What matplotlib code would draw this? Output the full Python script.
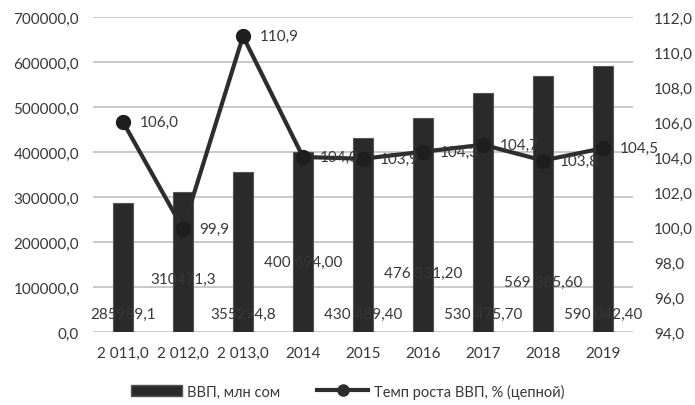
import matplotlib.pyplot as plt
from matplotlib.lines import Line2D
from matplotlib.patches import Patch

plt.rcParams['font.family'] = ['Lato', 'DejaVu Sans']

years = ["2 011,0", "2 012,0", "2 013,0", "2014", "2015", "2016", "2017", "2018", "2019"]
gdp = [285989.1, 310471.3, 355294.8, 400694.0, 430489.4, 476331.2, 530475.7, 569385.6, 590042.4]
gdp_labels = ["285989,1", "310471,3", "355294,8", "400 694,00", "430 489,40",
              "476 331,20", "530 475,70", "569 385,60", "590 042,40"]
growth = [106.0, 99.9, 110.9, 104.0, 103.9, 104.3, 104.7, 103.8, 104.5]
growth_labels = ["106,0", "99,9", "110,9", "104,0", "103,9", "104,3", "104,7", "103,8", "104,5"]

# where the bar value labels sit (left-axis units), as in the source picture
gdp_label_y = [40000, 117000, 40000, 155000, 40000, 132000, 40000, 112000, 40000]

txt = "#383838"
fs = 11
fig = plt.figure(figsize=(6.95, 4.06), dpi=100)
ax = fig.add_axes([93 / 695, 1 - 333 / 406, 540 / 695, 315 / 406])
ax2 = ax.twinx()

x = range(len(years))
ax.bar(x, gdp, width=0.34, color="#2a2a2a", edgecolor="#555555", linewidth=0.8, zorder=2)
ax.set_ylim(0, 700000)
ax.set_yticks(range(0, 700001, 100000))
ax.set_yticklabels([f"{v},0" for v in range(0, 700001, 100000)])
ax.set_xlim(-0.5, len(years) - 0.5)
ax.set_xticks(list(x))
ax.set_xticklabels(years)
ax.grid(axis="y", color="#c0c0c0", linewidth=1.2, zorder=0)
ax.set_axisbelow(True)
for s in ax.spines.values():
    s.set_visible(False)
ax.tick_params(length=0, colors=txt, labelsize=fs, pad=10)
ax.tick_params(axis="x", pad=10)

for i, (lab, ly) in enumerate(zip(gdp_labels, gdp_label_y)):
    ax.text(i, ly, lab, ha="center", va="center", fontsize=fs, color=txt, zorder=5)

ax2.plot(list(x), growth, color="#2d2d2d", linewidth=3, marker="o", markersize=10,
         markerfacecolor="#1e1e1e", markeredgecolor="#1e1e1e", zorder=4)
ax2.set_ylim(94, 112)
ax2.set_yticks(range(94, 113, 2))
ax2.set_yticklabels([f"{v},0" for v in range(94, 113, 2)])
for s in ax2.spines.values():
    s.set_visible(False)
ax2.tick_params(length=0, colors=txt, labelsize=fs, pad=15)
for i, (v, lab) in enumerate(zip(growth, growth_labels)):
    ax2.annotate(lab, (i, v), xytext=(12, 0), textcoords="offset points",
                 ha="left", va="center", fontsize=fs, color=txt, zorder=6)

handles = [Patch(facecolor="#2a2a2a", edgecolor="#555555"),
           Line2D([0], [0], color="#2d2d2d", linewidth=3, marker="o", markersize=8)]
fig.legend(handles, ["ВВП, млн сом", "Темп роста ВВП, % (цепной)"],
           loc="center", bbox_to_anchor=(0.5, 1 - 392 / 406), ncol=2, frameon=False,
           fontsize=10.5, labelcolor=txt, handlelength=3.5, handletextpad=0.4,
           columnspacing=2.5)

fig.savefig("out.png", dpi=100)
